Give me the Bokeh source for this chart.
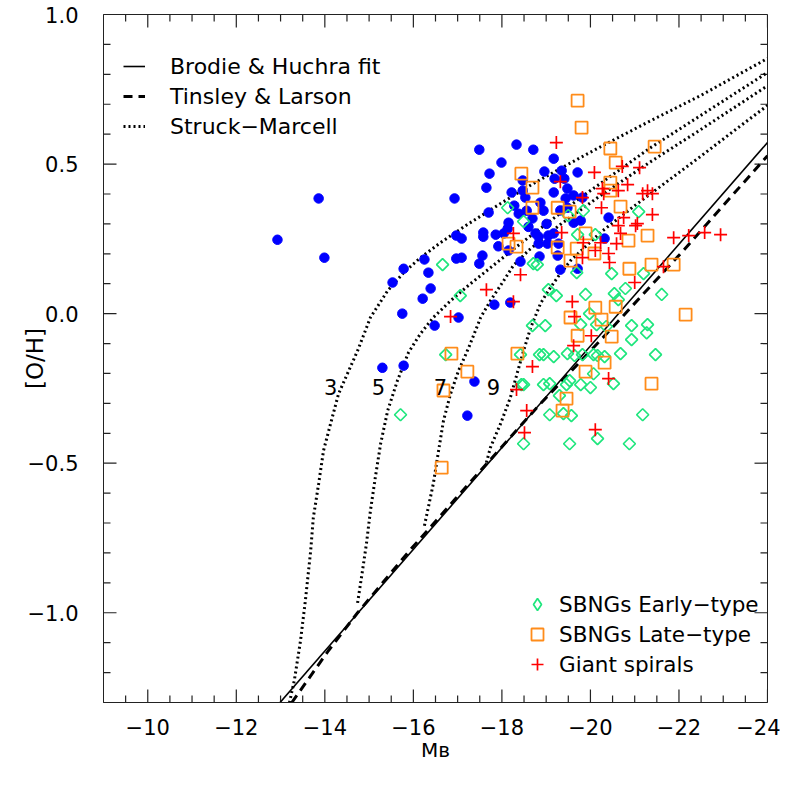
import math
from bokeh.plotting import figure
from bokeh.models import Range1d, FixedTicker, Legend, LegendItem
from bokeh.core.properties import value
from bokeh.embed import file_html
from bokeh.resources import INLINE

FONT = "DejaVu Sans"

# ---------------- data ----------------
blue_mb = [-13.86,-12.93,-13.99,-17.49,-18.33,-18.71,-19.17,-17.99,-18.96,-19.35,-19.71,-17.72,-19.19,-19.41,-18.47,
           -17.65,-18.22,-18.47,-18.53,-19.17,-19.48,-19.62,-19.82,-19.44,-16.93,-17.70,-18.28,-18.38,-18.56,-18.69,
           -18.94,-18.87,-19.48,-18.15,-18.13,-18.04,-17.86,-17.58,-17.58,-16.97,-17.09,-18.76,-18.83,-19.05,-19.17,
           -18.83,-19.03,-19.28,-19.62,-19.78,-20.41,-20.32,-18.15,-18.42,-18.85,-19.26,-17.56,-17.49,-17.09,-16.97,
           -16.25,-16.34,-15.78,-19.32,-19.71,-15.53,-16.39,-16.21,-15.75,-16.48,-17.02,-17.83,-18.19,-15.30,-15.78,
           -17.38,-17.22,-18.60,-19.32,-19.01,-17.92]
blue_oh = [0.385,0.247,0.187,0.548,0.565,0.548,0.518,0.505,0.475,0.478,0.472,0.468,0.451,0.451,0.445,
           0.421,0.405,0.411,0.388,0.405,0.418,0.395,0.388,0.385,0.385,0.338,0.361,0.334,0.344,0.318,
           0.344,0.371,0.354,0.304,0.284,0.268,0.264,0.271,0.257,0.261,0.251,0.268,0.257,0.261,0.268,
           0.234,0.234,0.234,0.304,0.311,0.321,0.251,0.211,0.174,0.191,0.194,0.194,0.167,0.187,0.184,
           0.181,0.137,0.150,0.147,0.150,0.104,0.084,0.050,0.000,-0.040,-0.013,0.030,0.037,-0.181,-0.174,
           -0.227,-0.341,0.290,0.345,0.300,0.225]

early_mb = [-18.13,-18.49,-19.50,-19.84,-21.09,-16.66,-17.06,-18.71,-18.80,-19.71,-20.11,-19.69,-20.48,-21.20,
            -19.05,-19.23,-19.89,-20.54,-20.79,-20.63,-21.61,-19.98,-19.78,-18.69,-18.98,-20.14,-20.36,-20.93,
            -21.29,-21.27,-20.93,-16.73,-18.42,-18.85,-18.94,-19.17,-19.48,-19.64,-19.82,-20.07,-20.16,-20.32,
            -20.68,-21.47,-18.44,-18.49,-18.94,-19.08,-19.30,-19.46,-19.53,-19.78,-20.00,-20.07,-20.52,-15.71,
            -19.08,-19.39,-19.57,-21.18,-18.49,-19.53,-20.16,-20.88]
early_oh = [0.354,0.308,0.328,0.344,0.341,0.164,0.060,0.167,0.164,0.264,0.264,0.137,0.134,0.134,
            0.080,0.060,0.064,0.067,0.084,0.047,0.064,0.000,-0.037,-0.040,-0.040,-0.037,-0.043,-0.040,
            -0.037,-0.064,-0.087,-0.137,-0.137,-0.137,-0.137,-0.144,-0.134,-0.140,-0.137,-0.137,-0.140,-0.144,
            -0.134,-0.137,-0.237,-0.237,-0.237,-0.234,-0.274,-0.237,-0.224,-0.237,-0.247,-0.201,-0.234,-0.338,
            -0.338,-0.334,-0.341,-0.338,-0.435,-0.435,-0.418,-0.435]

late_mb = [-19.71,-19.80,-20.45,-20.57,-20.45,-20.45,-21.45,-18.44,-18.69,-18.69,-19.26,-19.53,-20.68,-19.89,
           -20.86,-21.29,-18.15,-18.33,-19.26,-19.69,-19.55,-20.09,-20.88,-21.38,-21.88,-20.11,-20.57,-19.55,
           -20.25,-22.15,-16.86,-17.22,-16.68,-16.64,-18.35,-19.71,-20.48,-20.32,-19.89,-19.46,-19.37,-21.38]
late_oh = [0.712,0.622,0.552,0.505,0.438,0.411,0.558,0.468,0.421,0.354,0.354,0.341,0.358,0.268,
           0.244,0.261,0.234,0.224,0.221,0.217,0.177,0.201,0.150,0.164,0.164,0.020,0.023,-0.013,
           -0.020,-0.003,-0.134,-0.194,-0.257,-0.515,-0.134,-0.074,-0.077,-0.164,-0.194,-0.284,-0.324,-0.234]

giant_mb = [-19.23,-20.09,-20.72,-21.11,-19.32,-20.27,-20.30,-20.63,-20.84,-21.18,-21.29,-21.40,-19.82,-20.25,
            -20.75,-21.40,-21.06,-21.02,-20.63,-20.68,-20.59,-20.23,-19.84,-19.35,-18.26,-20.11,-20.41,-20.43,
            -19.82,-21.88,-22.22,-22.58,-22.94,-21.65,-18.42,-17.65,-18.26,-16.84,-19.59,-19.64,-21.00,-19.62,
            -20.02,-18.69,-18.33,-18.56,-18.51,-20.11,-20.41]
giant_oh = [0.572,0.472,0.492,0.488,0.441,0.418,0.401,0.411,0.431,0.401,0.411,0.401,0.388,0.354,
            0.321,0.331,0.301,0.294,0.294,0.268,0.234,0.237,0.237,0.271,0.268,0.211,0.201,0.171,
            0.187,0.254,0.261,0.271,0.264,0.157,0.130,0.080,0.040,-0.010,0.040,-0.010,0.104,-0.107,
            -0.074,-0.177,-0.254,-0.324,-0.398,-0.388,-0.217]

# Brodie & Huchra fit
bh_mb = [-12.5, -24.0]
bh_oh = [-1.383, 0.572]
# Tinsley & Larson
tl_mb = [-13.25, -14.08, -14.74, -15.91, -16.95, -18.79, -20.43, -22.10, -24.0]
tl_oh = [-1.301, -1.127, -1.000, -0.793, -0.619, -0.314, -0.057, 0.211, 0.528]
# Struck-Marcell models
sm3_mb = [-13.20,-13.31,-13.45,-13.56,-13.68,-13.74,-13.86,-13.97,-14.13,-14.31,-14.51,-14.74,-15.03,-15.42,
          -15.78,-16.16,-16.61,-17.22,-17.97,-18.71,-19.48,-20.23,-21.36,-22.49,-24.0]
sm3_oh = [-1.301,-1.227,-1.094,-0.960,-0.793,-0.682,-0.569,-0.458,-0.368,-0.268,-0.201,-0.124,-0.013,0.077,
          0.137,0.187,0.237,0.298,0.368,0.435,0.498,0.558,0.645,0.729,0.853]
sm5_mb = [-14.74,-14.85,-14.94,-15.03,-15.14,-15.26,-15.42,-15.64,-15.89,-16.16,-16.45,-16.84,-17.29,-18.42,
          -19.78,-21.36,-24.0]
sm5_oh = [-0.967,-0.860,-0.769,-0.659,-0.548,-0.435,-0.324,-0.224,-0.130,-0.067,-0.013,0.043,0.100,0.234,
          0.388,0.555,0.806]
sm7_mb = [-16.25,-16.45,-16.57,-16.68,-16.84,-17.02,-17.25,-17.52,-17.74,-18.04,-18.26,-18.60,-19.32,-20.23,
          -21.36,-22.49,-24.0]
sm7_oh = [-0.709,-0.569,-0.458,-0.358,-0.268,-0.191,-0.114,-0.013,0.043,0.110,0.161,0.211,0.298,0.395,
          0.508,0.615,0.762]
sm9_mb = [-17.65,-17.74,-17.97,-18.19,-18.38,-18.49,-18.65,-18.87,-19.05,-19.32,-19.55,-20.25,-21.00,-21.76,
          -22.51,-23.25,-24.0]
sm9_oh = [-0.498,-0.448,-0.368,-0.281,-0.181,-0.124,-0.047,0.033,0.077,0.134,0.177,0.274,0.361,0.445,
          0.528,0.612,0.696]

curve_labels = ["3", "5", "7", "9"]
curve_label_mb = [-14.13, -15.21, -16.61, -17.81]
curve_label_oh = [-0.244, -0.244, -0.244, -0.244]

x_lim = (-9.0, -24.0)
y_lim = (-1.3, 1.0)
x_ticks = [-10, -12, -14, -16, -18, -20, -22, -24]
x_minor = [-9.0 - 0.5 * i for i in range(31)]
y_ticks = [1.0, 0.5, 0.0, -0.5, -1.0]
y_minor = [round(-1.3 + 0.1 * i, 2) for i in range(24)]
x_tick_labels = ["\u221210", "\u221212", "\u221214", "\u221216", "\u221218", "\u221220", "\u221222", "\u221224"]
y_tick_labels = ["1.0", "0.5", "0.0", "\u22120.5", "\u22121.0"]

# ---------------- figure ----------------
p = figure(width=780, height=780, output_backend="svg", toolbar_location=None,
           x_range=Range1d(*x_lim), y_range=Range1d(*y_lim),
           min_border_left=103, min_border_right=13, min_border_top=14, min_border_bottom=78)
AX_COLOR = "#222222"
p.outline_line_color = AX_COLOR
p.outline_line_width = 1
p.grid.visible = False
p.background_fill_color = "white"
p.border_fill_color = "white"

p.xaxis.ticker = FixedTicker(ticks=x_ticks, minor_ticks=[])
p.yaxis.ticker = FixedTicker(ticks=y_ticks, minor_ticks=[])
p.xaxis.major_label_overrides = dict(zip(x_ticks, x_tick_labels))
p.yaxis.major_label_overrides = dict(zip(y_ticks, y_tick_labels))
for ax in (p.xaxis[0], p.yaxis[0]):
    ax.axis_line_color = AX_COLOR
    ax.major_tick_in = 0
    ax.major_tick_out = 0
    ax.minor_tick_in = 0
    ax.minor_tick_out = 0
    ax.major_label_text_font = FONT
    ax.major_label_text_font_size = "21px"
    ax.major_label_text_color = "black"
    ax.axis_label_text_font = FONT
    ax.axis_label_text_font_style = "normal"
    ax.axis_label_text_color = "black"
p.xaxis.major_label_standoff = 16
p.yaxis.major_label_standoff = 25
p.yaxis.axis_label = "[O/H]"
p.yaxis.axis_label_text_font_size = "23px"
p.yaxis.axis_label_standoff = -23
p.xaxis.axis_label = "M\u0299"
p.xaxis.axis_label_text_font_size = "20px"
p.xaxis.axis_label_standoff = 0

# inward tick marks on all four sides: rays with pixel lengths from the frame edges
MAJ, MIN = 13, 7
xmin_only = [t for t in x_minor if t not in x_ticks and x_lim[1] < t < x_lim[0]]
ymin_only = [t for t in y_minor if all(abs(t - m) > 1e-6 for m in y_ticks) and y_lim[0] < t < y_lim[1]]
TICK = dict(line_color=AX_COLOR, line_width=1.2, length_units="screen")
for ticks, ln in [(x_ticks, MAJ), (xmin_only, MIN)]:
    n = len(ticks)
    p.ray(x=ticks, y=[y_lim[0]] * n, length=ln, angle=math.pi / 2, **TICK)
    p.ray(x=ticks, y=[y_lim[1]] * n, length=ln, angle=-math.pi / 2, **TICK)
for ticks, ln in [(y_ticks, MAJ), (ymin_only, MIN)]:
    n = len(ticks)
    p.ray(x=[x_lim[0]] * n, y=ticks, length=ln, angle=0, **TICK)
    p.ray(x=[x_lim[1]] * n, y=ticks, length=ln, angle=math.pi, **TICK)

# model lines
r_bh = p.line(bh_mb, bh_oh, line_color="black", line_width=1.6)
r_tl = p.line(tl_mb, tl_oh, line_color="black", line_width=3, line_dash="9 6")
r_sm = p.line(sm3_mb, sm3_oh, line_color="black", line_width=3, line_dash="2 3")
for xs, ys in [(sm5_mb, sm5_oh), (sm7_mb, sm7_oh), (sm9_mb, sm9_oh)]:
    p.line(xs, ys, line_color="black", line_width=3, line_dash="2 3")

# points
GREEN, ORANGE, RED, BLUE = "#1ee67d", "#ff8c1a", "#ff0000", "#0000ff"
p.scatter(blue_mb, blue_oh, marker="circle", size=9.5, fill_color=BLUE, line_color=BLUE)
p.scatter(early_mb, early_oh, marker="square", angle=math.pi / 4, size=8.5, fill_color=None,
          line_color=GREEN, line_width=1.7)
r_l = p.scatter(late_mb, late_oh, marker="square", size=12, fill_color=None,
                line_color=ORANGE, line_width=1.8)
r_g = p.scatter(giant_mb, giant_oh, marker="cross", size=13, line_color=RED, line_width=1.7)
# legend key for the early types: zero-size on the plot, the legend draws its own diamond
r_e_key = p.scatter(early_mb[:1], early_oh[:1], marker="diamond", size=0, fill_color=None,
                    line_color=GREEN, line_width=1.7)

# curve labels
p.text(x=curve_label_mb, y=curve_label_oh, text=curve_labels, text_font=value(FONT),
       text_font_size="21px", text_align="center", text_baseline="middle", text_color="black")

# legends
leg1 = Legend(items=[LegendItem(label="Brodie & Huchra fit", renderers=[r_bh]),
                     LegendItem(label="Tinsley & Larson", renderers=[r_tl]),
                     LegendItem(label="Struck\u2212Marcell", renderers=[r_sm])],
              location=(20, 561), orientation="vertical")
leg2 = Legend(items=[LegendItem(label="SBNGs Early\u2212type", renderers=[r_e_key]),
                     LegendItem(label="SBNGs Late\u2212type", renderers=[r_l]),
                     LegendItem(label="Giant spirals", renderers=[r_g])],
              location=(419, 23), orientation="vertical")
for lg, gw, st, fs in [(leg1, 22, 25, "22px"), (leg2, 30, 7, "21.5px")]:
    lg.background_fill_alpha = 0
    lg.border_line_color = None
    lg.padding = 0
    lg.margin = 0
    lg.spacing = 0
    lg.glyph_width = gw
    lg.glyph_height = 30
    lg.label_height = 30
    lg.label_standoff = st
    lg.label_text_font = FONT
    lg.label_text_font_size = fs
    lg.label_text_color = "black"
    p.add_layout(lg)

open("out.html", "w").write(file_html(p, INLINE))
